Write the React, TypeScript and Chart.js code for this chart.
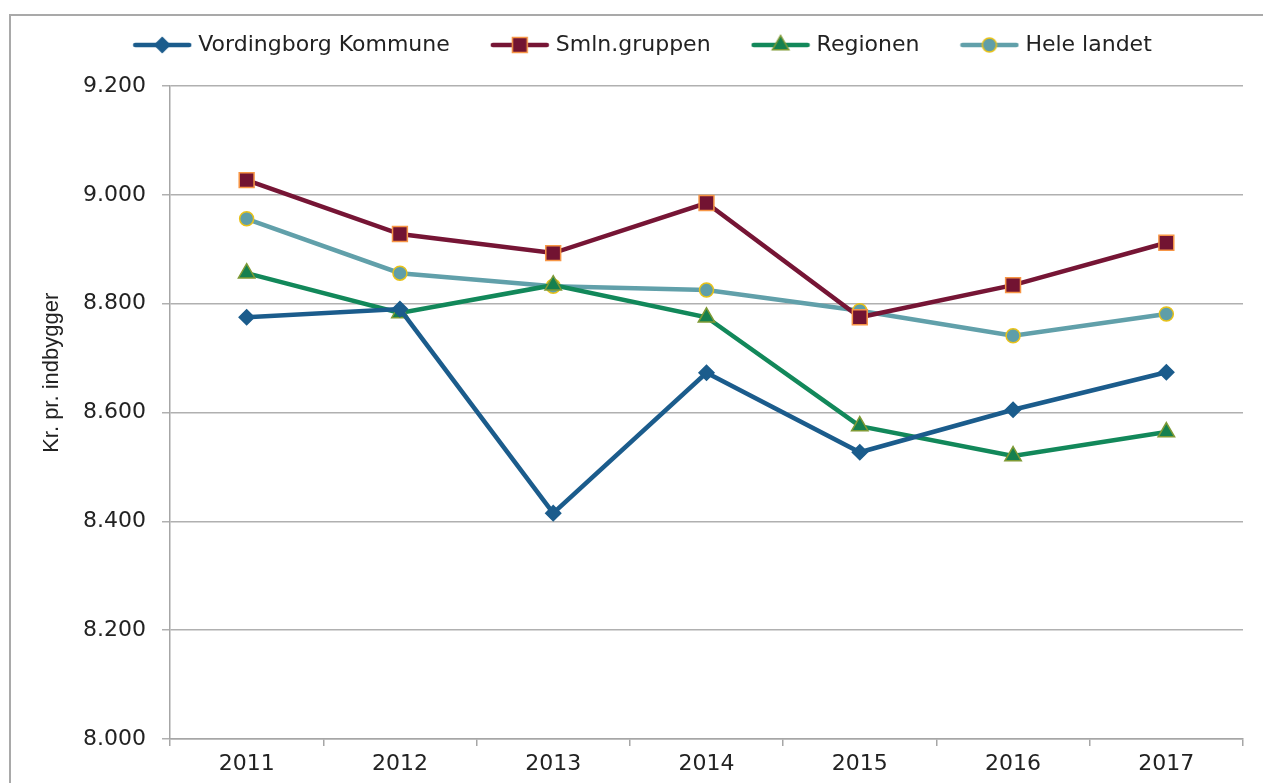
import React, { useEffect, useRef } from "react";
import { Chart, registerables } from "chart.js";

Chart.register(...registerables);

const years = ["2011", "2012", "2013", "2014", "2015", "2016", "2017"];
const vordingborg = [8775, 8790, 8415, 8673, 8527, 8605, 8674];
const smlnGruppen = [9027, 8928, 8893, 8985, 8775, 8834, 8912];
const regionen = [8856, 8783, 8834, 8775, 8575, 8520, 8564];
const heleLandet = [8956, 8856, 8832, 8825, 8787, 8741, 8781];
const seriesNames = ["Vordingborg Kommune", "Smln.gruppen", "Regionen", "Hele landet"];
const yTicks = [8000, 8200, 8400, 8600, 8800, 9000, 9200];
const yTitle = "             Kr. pr. indbygger";

const FONT = "'DejaVu Sans', 'Liberation Sans', sans-serif";

function fmt(v: number): string {
  const s = Math.round(v).toString();
  return s.length > 3 ? s.slice(0, s.length - 3) + "." + s.slice(s.length - 3) : s;
}

function legendImage(style: string, line: string, fill: string, stroke: string, r: number): HTMLCanvasElement {
  const c = document.createElement("canvas");
  c.width = 60;
  c.height = 22;
  const ctx = c.getContext("2d")!;
  ctx.strokeStyle = line;
  ctx.lineWidth = 4.5;
  ctx.lineCap = "round";
  ctx.beginPath();
  ctx.moveTo(3, 11);
  ctx.lineTo(57, 11);
  ctx.stroke();
  ctx.fillStyle = fill;
  ctx.strokeStyle = stroke;
  ctx.lineWidth = 1.5;
  ctx.beginPath();
  const x = 30, y = 11;
  if (style === "rectRot") {
    ctx.moveTo(x, y - r); ctx.lineTo(x + r, y); ctx.lineTo(x, y + r); ctx.lineTo(x - r, y); ctx.closePath();
  } else if (style === "rect") {
    const s = r * Math.SQRT1_2;
    ctx.rect(x - s, y - s, 2 * s, 2 * s);
  } else if (style === "triangle") {
    ctx.moveTo(x, y - r); ctx.lineTo(x + r * 0.866, y + r * 0.5); ctx.lineTo(x - r * 0.866, y + r * 0.5); ctx.closePath();
  } else {
    ctx.arc(x, y, r, 0, Math.PI * 2);
  }
  ctx.fill();
  ctx.stroke();
  return c;
}

const frame = {
  id: "frame",
  afterLayout(chart: any) {
    const lg = chart.legend;
    if (lg) {
      lg.left += 23;
      lg.right += 23;
    }
  },
  beforeDraw(chart: any) {
    const ctx = chart.ctx;
    ctx.save();
    ctx.fillStyle = "#ffffff";
    ctx.fillRect(0, 0, chart.width, chart.height);
    ctx.strokeStyle = "#a9a9a9";
    ctx.lineWidth = 2;
    ctx.strokeRect(10, 15, 3000, 3000);
    ctx.restore();
  },
};

export default function App() {
  const ref = useRef<HTMLCanvasElement>(null);
  useEffect(() => {
    document.body.style.margin = "0";
    const defs = [
      { data: vordingborg, line: "#1b5c8c", fill: "#1b5c8c", stroke: "#1b5c8c", style: "rectRot", r: 7.5 },
      { data: smlnGruppen, line: "#761535", fill: "#721332", stroke: "#f79646", style: "rect", r: 10.5 },
      { data: regionen, line: "#12885a", fill: "#15804f", stroke: "#7f9a35", style: "triangle", r: 9.5 },
      { data: heleLandet, line: "#61a0aa", fill: "#5f9ea8", stroke: "#e8c21a", style: "circle", r: 7 },
    ];
    const imgs = defs.map((d) => legendImage(d.style, d.line, d.fill, d.stroke, d.r));
    const chart = new Chart(ref.current!, {
      type: "line",
      data: {
        labels: years,
        datasets: defs.map((d, i) => ({
          label: seriesNames[i],
          data: d.data,
          borderColor: d.line,
          backgroundColor: d.fill,
          borderWidth: 4.5,
          pointStyle: d.style as any,
          pointRadius: d.r,
          pointHoverRadius: d.r,
          pointBackgroundColor: d.fill,
          pointBorderColor: d.stroke,
          pointBorderWidth: 1.5,
          tension: 0,
        })),
      },
      options: {
        animation: false,
        responsive: false,
        maintainAspectRatio: false,
        layout: { padding: { left: 0, right: 20, top: -11, bottom: 0 } },
        plugins: {
          tooltip: { enabled: false },
          subtitle: {
            display: true,
            text: "",
            position: "top",
            weight: 500,
            font: { size: 1, lineHeight: 1 },
            padding: { top: 0, bottom: 19 },
          } as any,
          legend: {
            position: "top",
            weight: 1000,
            labels: {
              usePointStyle: true,
              pointStyleWidth: 50,
              padding: 45,
              color: "#222222",
              font: { family: FONT, size: 22 },
              generateLabels: (c: any) =>
                c.data.datasets.map((ds: any, i: number) => ({
                  text: ds.label,
                  pointStyle: imgs[i],
                  fillStyle: ds.backgroundColor,
                  strokeStyle: ds.borderColor,
                  lineWidth: 0,
                  hidden: false,
                  datasetIndex: i,
                  fontColor: "#222222",
                })),
            },
          } as any,
        },
        scales: {
          x: {
            type: "category",
            offset: true,
            grid: {
              offset: true,
              drawOnChartArea: false,
              drawTicks: true,
              tickLength: 7,
              color: "#a6a6a6",
              lineWidth: 1.5,
            },
            border: { display: true, color: "#a6a6a6", width: 1.5 },
            ticks: { color: "#222222", font: { family: FONT, size: 22 }, padding: 5 },
            afterFit: (s: any) => { s.height = 44; },
          },
          y: {
            min: 8000,
            max: 9200,
            afterBuildTicks: (s: any) => { s.ticks = yTicks.map((v) => ({ value: v })); },
            grid: { color: "#b0b0b0", lineWidth: 1.5, tickLength: 8 },
            border: { display: true, color: "#a6a6a6", width: 1.5 },
            ticks: {
              color: "#222222",
              font: { family: FONT, size: 22 },
              padding: 16,
              callback: (v: any) => fmt(Number(v)),
            },
            title: {
              display: true,
              text: yTitle,
              color: "#222222",
              font: { family: "'Liberation Sans Narrow', 'Liberation Sans', sans-serif", size: 22 },
              padding: { top: 39, bottom: 0 },
            },
            afterFit: (s: any) => { s.width = 170; },
          },
        },
      },
      plugins: [frame],
    });
    return () => chart.destroy();
  }, []);
  return (
    <div style={{ position: "absolute", left: 0, top: 0, width: 1263, height: 783 }}>
      <canvas ref={ref} width={1263} height={783} style={{ display: "block" }} />
    </div>
  );
}
